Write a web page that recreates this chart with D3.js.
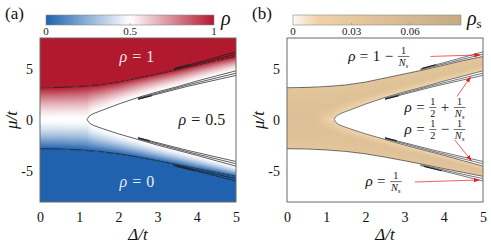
<!DOCTYPE html>
<html><head><meta charset="utf-8">
<script src="https://cdn.jsdelivr.net/npm/d3@7"></script>
<style>
body{margin:0;background:#fff;}
</style></head>
<body><svg id="chart" width="491" height="246"></svg>
<script>
// ---- phase boundaries (Δ/t -> μ/t) ----
const DELTA      = [0, 0.5, 1, 1.5, 2, 2.5, 3, 3.5, 4, 4.5, 5];
const MU_OUT_UP  = [3.15, 3.18, 3.27, 3.42, 3.7, 4.1, 4.5, 4.9, 5.35, 5.8, 6.2];
const MU_OUT_LO  = [-2.8, -2.83, -2.92, -3.07, -3.3, -3.62, -3.98, -4.35, -4.75, -5.12, -5.5];
const DELTA_IN   = [1.2, 1.25, 1.3, 1.4, 1.6, 2, 2.5, 3, 3.5, 4, 4.5, 5];
const MU_IN_UP   = [0.05, 0.35, 0.5, 0.68, 0.97, 1.55, 2.2, 2.75, 3.25, 3.8, 4.3, 4.8];
const MU_IN_LO   = [0.05, -0.25, -0.4, -0.58, -0.85, -1.35, -1.9, -2.45, -2.95, -3.45, -3.98, -4.5];
// split lines (finite-size steps)
const DELTA_EXT_OUT = [3.4, 4.2, 5];
const MU_EXT_OUT_UP = [[4.9, 5.66, 6.42], [4.98, 5.8, 6.65]];
const MU_EXT_OUT_LO = [[-4.36, -5.05, -5.72], [-4.44, -5.18, -5.95]];
const DELTA_EXT_IN  = [2.5, 3.75, 5];
const MU_EXT_IN_UP  = [[2.12, 3.4, 4.57], [2.04, 3.27, 4.35]];
const MU_EXT_IN_LO  = [[-1.82, -3.08, -4.27], [-1.74, -2.95, -4.05]];
const BOLD_OUT_UP = [3.45, 3.8], BOLD_OUT_LO = [3.5, 3.95], BOLD_IN_UP = [2.5, 2.85], BOLD_IN_LO = [2.5, 2.8];

const X_TICKS = [0, 1, 2, 3, 4, 5];
const Y_TICKS = [-5, 0, 5];
const RHO_TICKS = [0, 0.5, 1];
const RHOS_TICKS = [0, 0.03, 0.06];
const RHOS_MAX = 0.086;

const SERIF = "Liberation Serif";
const svg = d3.select("#chart").attr("font-family", SERIF);
const defs = svg.append("defs");

const outUp = d3.scaleLinear().domain(DELTA).range(MU_OUT_UP);
const outLo = d3.scaleLinear().domain(DELTA).range(MU_OUT_LO);
const inUp  = d3.scaleLinear().domain(DELTA_IN).range(MU_IN_UP).clamp(true);
const inLo  = d3.scaleLinear().domain(DELTA_IN).range(MU_IN_LO).clamp(true);
const TIP = DELTA_IN[0], TIP_MU = MU_IN_UP[0];

const rhoColor  = d3.scaleLinear().domain([0, 0.5, 1]).range(["#2062ad", "#ffffff", "#b0192e"]);
const rhosColor = d3.scaleLinear().domain([0, 0.012, 0.04, RHOS_MAX])
  .range(["#fcf9f3", "#f0d3a8", "#e0c399", "#c5aa82"]).clamp(true);

// density inside the band, shaded between the read boundaries
function rhoAt(d, m){
  const hi = outUp(d), lo = outLo(d);
  if (m >= hi) return 1;
  if (m <= lo) return 0;
  if (d < TIP){
    const u = m > TIP_MU ? (m-TIP_MU)/(hi-TIP_MU) : -(TIP_MU-m)/(TIP_MU-lo);
    return 0.5 + 0.5*Math.sign(u)*Math.pow(Math.abs(u), 1.5);
  }
  const a = inUp(d), b = inLo(d);
  if (m > a) return 0.5 + 0.5*Math.pow((m-a)/(hi-a), 1.5);
  if (m < b) return 0.5 - 0.5*Math.pow((b-m)/(b-lo), 1.5);
  return 0.5;
}
function rhosAt(d, m){
  const hi = outUp(d), lo = outLo(d);
  if (m > hi || m < lo) return 0;
  const a = d < TIP ? TIP_MU : inUp(d), b = d < TIP ? TIP_MU : inLo(d);
  if (d >= TIP && m <= a && m >= b) return 0;
  const s = m > a ? (m-a)/(hi-a) : (b-m)/(b-lo);     // 0 at inner edge, 1 at outer edge
  const q = Math.pow(Math.min(1, s/0.4), 0.6);
  let v = 0.035 + 0.01*(1 - s*s);
  if (d >= TIP) v *= q;
  else { const k = Math.max(0, 1 - (TIP-d)/0.45); v *= 1 - k*(1-q); }
  return v;
}

// ---- small math-text helper ----
function mathText(g, x0, y0, parts, opt){
  const size = opt.size, fill = opt.fill || "#111", gap = opt.gap == null ? 4 : opt.gap;
  const grp = g.append("g").attr("fill", fill);
  let cx = 0;
  parts.forEach((p, i) => {
    if (i > 0) cx += gap;
    if (p.f){
      const fs = size*0.68;
      const num = grp.append("text").attr("font-size", fs).attr("text-anchor", "middle").text(p.f[0]);
      const den = grp.append("text").attr("font-size", fs).attr("text-anchor", "middle");
      if (p.f[1] === "Ns"){
        den.append("tspan").attr("font-style", "italic").text("N");
        den.append("tspan").attr("font-style", "italic").attr("font-size", fs*0.7).attr("dy", fs*0.15).text("s");
      } else den.text(p.f[1]);
      const w = Math.max(num.node().getComputedTextLength(), den.node().getComputedTextLength()) + 2;
      const ay = -size*0.3;
      num.attr("x", cx + w/2).attr("y", ay - 2.4);
      den.attr("x", cx + w/2).attr("y", ay + fs*0.95);
      grp.append("line").attr("x1", cx).attr("x2", cx + w).attr("y1", ay).attr("y2", ay)
        .attr("stroke", fill).attr("stroke-width", 0.6);
      cx += w;
    } else {
      const t = grp.append("text").attr("x", cx).attr("font-size", size).text(p.t || p.i);
      if (p.i) t.attr("font-style", "italic");
      cx += t.node().getComputedTextLength();
    }
  });
  const shift = opt.anchor === "middle" ? -cx/2 : opt.anchor === "end" ? -cx : 0;
  grp.attr("transform", `translate(${x0 + shift},${y0})`);
}

// ---- one panel ----
function panel(cfg){
  const x = d3.scaleLinear().domain([0, 5]).range([cfg.x0, cfg.x0 + 196]);
  const y = d3.scaleLinear().domain([-8, 8]).range([202, 38]);
  const g = svg.append("g");
  const clipId = "clip" + cfg.name;
  defs.append("clipPath").attr("id", clipId)
    .append("rect").attr("x", x(0)).attr("y", y(8)).attr("width", x(5)-x(0)).attr("height", y(-8)-y(8));
  const plot = g.append("g").attr("clip-path", `url(#${clipId})`);

  if (cfg.name === "a"){
    plot.append("path").datum(DELTA).attr("fill", rhoColor(1))
      .attr("d", d3.area().x(d => x(d)).y0(y(8)).y1(d => y(outUp(d))));
    plot.append("path").datum(DELTA).attr("fill", rhoColor(0))
      .attr("d", d3.area().x(d => x(d)).y0(y(-8)).y1(d => y(outLo(d))));
  }

  // shading cells inside the band
  const NX = 196, NY = 164, DX = 5/NX, DM = 16/NY;
  const cells = [];
  for (let i = 0; i < NX; i++){
    for (let j = 0; j < NY; j++){
      const d = (i + 0.5)*DX, m = -8 + (j + 0.5)*DM;
      if (cfg.name === "a"){
        const v = rhoAt(d, m);
        if (v > 0 && v < 1 && v !== 0.5) cells.push({d, m, c: rhoColor(v)});
      } else {
        const v = rhosAt(d, m);
        if (v > 0) cells.push({d, m, c: rhosColor(v)});
      }
    }
  }
  plot.append("g").attr("shape-rendering", "crispEdges").selectAll("rect").data(cells).join("rect")
    .attr("x", c => x(c.d - DX/2)).attr("y", c => y(c.m + DM/2))
    .attr("width", x(DX) - x(0) + 0.4).attr("height", y(0) - y(DM) + 0.4)
    .attr("fill", c => c.c);

  // boundary lines
  const line = d3.line().x(p => x(p[0])).y(p => y(p[1]));
  const lc = cfg.name === "a" ? "#1a1a1a" : "#3a3a3a";
  const mains = [d3.zip(DELTA, MU_OUT_UP), d3.zip(DELTA, MU_OUT_LO), d3.zip(DELTA_IN, MU_IN_UP), d3.zip(DELTA_IN, MU_IN_LO)];
  const extras = [...MU_EXT_OUT_UP, ...MU_EXT_OUT_LO].map(a => d3.zip(DELTA_EXT_OUT, a))
    .concat([...MU_EXT_IN_UP, ...MU_EXT_IN_LO].map(a => d3.zip(DELTA_EXT_IN, a)));
  plot.append("g").attr("fill", "none").attr("stroke", lc).attr("stroke-width", 0.7)
    .selectAll("path").data(mains.concat(extras)).join("path").attr("d", line);
  const boldSeg = [[MU_EXT_OUT_UP[1], DELTA_EXT_OUT, BOLD_OUT_UP], [MU_EXT_OUT_LO[1], DELTA_EXT_OUT, BOLD_OUT_LO],
                   [MU_EXT_IN_UP[1], DELTA_EXT_IN, BOLD_IN_UP], [MU_EXT_IN_LO[1], DELTA_EXT_IN, BOLD_IN_LO]]
    .map(([mu, dl, r]) => { const s = d3.scaleLinear().domain(dl).range(mu); return r.map(d => [d, s(d)]); });
  plot.append("g").attr("fill", "none").attr("stroke", "#222").attr("stroke-width", 1.2)
    .selectAll("path").data(boldSeg).join("path").attr("d", line);

  // frame
  g.append("rect").attr("x", x(0)).attr("y", y(8)).attr("width", x(5)-x(0)).attr("height", y(-8)-y(8))
    .attr("fill", "none").attr("stroke", "#6a6a6a").attr("stroke-width", 1);

  // axes
  g.append("g").attr("transform", `translate(0,${y(-8)})`)
    .call(d3.axisBottom(x).tickValues(X_TICKS).tickSize(0).tickPadding(10).tickFormat(d3.format("d")))
    .call(a => a.select(".domain").remove())
    .call(a => a.attr("font-family", SERIF).attr("font-size", 14))
    .selectAll("text").attr("fill", "#111");
  g.append("g").attr("transform", `translate(${x(0)},0)`)
    .call(d3.axisLeft(y).tickValues(Y_TICKS).tickSize(0).tickPadding(7).tickFormat(d => d < 0 ? "-" + (-d) : d))
    .call(a => a.select(".domain").remove())
    .call(a => a.attr("font-family", SERIF).attr("font-size", 14))
    .selectAll("text").attr("fill", "#111");
  g.append("text").attr("x", x(2.5)).attr("y", 240).attr("text-anchor", "middle")
    .attr("font-size", 17).attr("font-style", "italic").attr("fill", "#111").text("Δ/t");
  g.append("text").attr("transform", `translate(${x(0) - 23},${y(0)}) rotate(-90)`).attr("text-anchor", "middle")
    .attr("font-size", 17).attr("font-style", "italic").attr("fill", "#111").text("μ/t");
  g.append("text").attr("x", x(0) - 35).attr("y", 19).attr("font-size", 17).attr("fill", "#111").text(cfg.tag);

  // colorbar
  const cb = d3.scaleLinear().domain(cfg.cbDomain).range([x(0) + 6, x(0) + 174]);
  const grad = defs.append("linearGradient").attr("id", "grad" + cfg.name);
  d3.range(0, 1.0001, 0.05).forEach(t => grad.append("stop").attr("offset", t)
    .attr("stop-color", cfg.color(cfg.cbDomain[0] + t*(cfg.cbDomain[1] - cfg.cbDomain[0]))));
  g.append("rect").attr("x", cb.range()[0]).attr("y", 15).attr("width", cb.range()[1] - cb.range()[0]).attr("height", 10)
    .attr("fill", `url(#grad${cfg.name})`).attr("stroke", "#8a8a8a").attr("stroke-width", 0.6);
  g.append("g").selectAll("line").data(cfg.cbTicks.slice(1)).join("line")
    .attr("x1", d => cb(d)).attr("x2", d => cb(d)).attr("y1", 23).attr("y2", 25)
    .attr("stroke", "#888").attr("stroke-width", 0.6);
  g.append("g").selectAll("text").data(cfg.cbTicks).join("text")
    .attr("x", d => cb(d)).attr("y", 35).attr("text-anchor", "middle").attr("font-size", 11).attr("fill", "#222")
    .text(cfg.cbFormat);
  return {g, x, y};
}

// ---- panel (a) ----
const A = panel({name: "a", tag: "(a)", x0: 40, color: rhoColor, cbDomain: [0, 1], cbTicks: RHO_TICKS,
  cbFormat: d => d === 0.5 ? "0.5" : d});
A.g.append("text").attr("x", 221).attr("y", 25).attr("font-size", 20).attr("font-style", "italic").attr("fill", "#111").text("ρ");
mathText(A.g, A.x(2.47), A.y(5.66), [{i: "ρ"}, {t: "="}, {t: "1"}], {size: 16, fill: "#f4e6e8", gap: 5, anchor: "middle"});
mathText(A.g, A.x(4.13), A.y(-0.5), [{i: "ρ"}, {t: "="}, {t: "0.5"}], {size: 16, fill: "#1a1a1a", gap: 5, anchor: "middle"});
mathText(A.g, A.x(2.47), A.y(-6.55), [{i: "ρ"}, {t: "="}, {t: "0"}], {size: 16, fill: "#e6edf6", gap: 5, anchor: "middle"});

// ---- panel (b) ----
const B = panel({name: "b", tag: "(b)", x0: 287, color: rhosColor, cbDomain: [0, RHOS_MAX], cbTicks: RHOS_TICKS,
  cbFormat: d => d === 0 ? "0" : d3.format(".2f")(d)});
B.g.append("text").attr("x", 467).attr("y", 25).attr("font-size", 20).attr("font-style", "italic").attr("fill", "#111")
  .text("ρ").append("tspan").attr("font-style", "normal").attr("font-size", 13).attr("dy", 3).text("s");

defs.append("marker").attr("id", "arr").attr("viewBox", "0 0 10 10").attr("refX", 9).attr("refY", 5)
  .attr("markerWidth", 6).attr("markerHeight", 6).attr("orient", "auto").attr("markerUnits", "userSpaceOnUse")
  .append("path").attr("d", "M0,1.5L10,5L0,8.5Z").attr("fill", "#e8191c");

const NOTES = [
  {at: [1.56, 5.76], parts: [{i: "ρ"}, {t: "="}, {t: "1"}, {t: "−"}, {f: ["1", "Ns"]}], from: [3.66, 6.2], to: [4.92, 6.35]},
  {at: [3.0, 0.78],  parts: [{i: "ρ"}, {t: "="}, {f: ["1", "2"]}, {t: "+"}, {f: ["1", "Ns"]}], from: [4.34, 2.3], to: [4.68, 4.2]},
  {at: [3.0, -1.37], parts: [{i: "ρ"}, {t: "="}, {f: ["1", "2"]}, {t: "−"}, {f: ["1", "Ns"]}], from: [4.28, -1.95], to: [4.7, -3.95]},
  {at: [2.0, -6.45], parts: [{i: "ρ"}, {t: "="}, {f: ["1", "Ns"]}], from: [3.26, -6.05], to: [4.9, -5.85]}
];
NOTES.forEach(n => {
  mathText(B.g, B.x(n.at[0]), B.y(n.at[1]), n.parts, {size: 15, fill: "#111", gap: 4.5});
  B.g.append("line").attr("x1", B.x(n.from[0])).attr("y1", B.y(n.from[1]))
    .attr("x2", B.x(n.to[0])).attr("y2", B.y(n.to[1]))
    .attr("stroke", "#e8191c").attr("stroke-width", 0.7).attr("marker-end", "url(#arr)");
});
</script>
</body></html>
